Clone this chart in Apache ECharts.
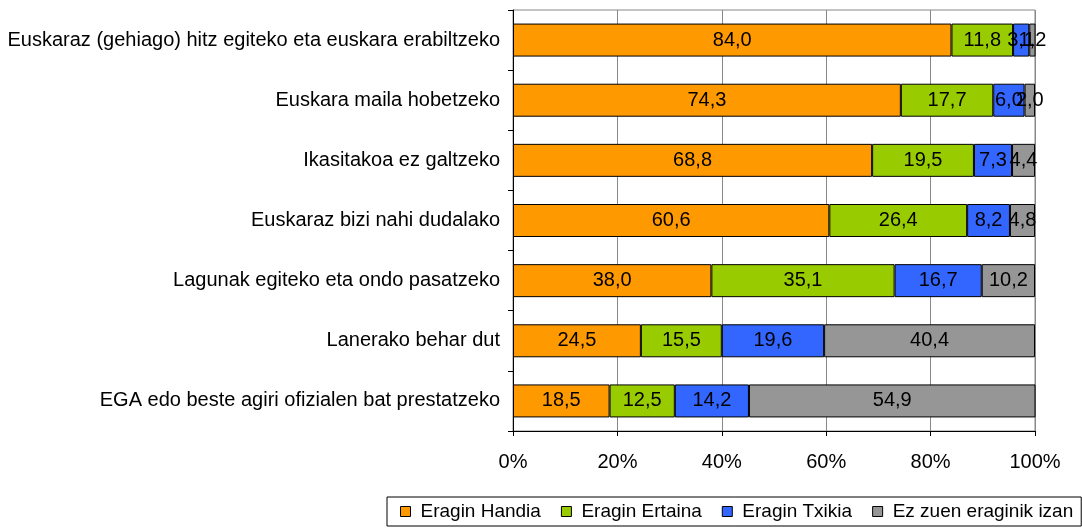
<!DOCTYPE html>
<html>
<head>
<meta charset="utf-8">
<script src="https://cdn.jsdelivr.net/npm/echarts@6/dist/echarts.min.js"></script>
<style>
  html, body { margin: 0; padding: 0; background: #fff; }
  #chart { width: 1082px; height: 530px; }
</style>
</head>
<body>
<div id="chart"></div>
<script>
var categories = [
  'Euskaraz (gehiago) hitz egiteko eta euskara erabiltzeko',
  'Euskara maila hobetzeko',
  'Ikasitakoa ez galtzeko',
  'Euskaraz bizi nahi dudalako',
  'Lagunak egiteko eta ondo pasatzeko',
  'Lanerako behar dut',
  'EGA edo beste agiri ofizialen bat prestatzeko'
];
var handia = [84.0, 74.3, 68.8, 60.6, 38.0, 24.5, 18.5];
var ertaina = [11.8, 17.7, 19.5, 26.4, 35.1, 15.5, 12.5];
var txikia = [3.1, 6.0, 7.3, 8.2, 16.7, 19.6, 14.2];
var ezIzan = [1.2, 2.0, 4.4, 4.8, 10.2, 40.4, 54.9];
var seriesNames = ['Eragin Handia', 'Eragin Ertaina', 'Eragin Txikia', 'Ez zuen eraginik izan'];
var colors = ['#FF9900', '#99CC00', '#3366FF', '#969696'];

var font = 'Liberation Sans, Arial, sans-serif';
var chart = echarts.init(document.getElementById('chart'));

function makeSeries(name, data) {
  return {
    name: name,
    type: 'bar',
    stack: 'total',
    barWidth: 33,
    data: data,
    itemStyle: { borderColor: '#000', borderWidth: 1 },
    label: {
      show: true,
      position: 'inside',
      color: '#000',
      fontFamily: font,
      fontSize: 20,
      formatter: function (p) { return p.value.toFixed(1).replace('.', ','); }
    }
  };
}

chart.setOption({
  animation: false,
  color: colors,
  grid: {
    left: 513, right: 47, top: 10, bottom: 99,
    show: true, borderColor: '#888', borderWidth: 1
  },
  legend: {
    data: seriesNames,
    left: 387,
    top: 497,
    width: 760,
    itemWidth: 10,
    itemHeight: 10,
    itemGap: 20,
    icon: 'rect',
    padding: [5, 8, 5, 13],
    borderColor: '#000',
    borderWidth: 1,
    itemStyle: { borderColor: '#000', borderWidth: 1 },
    textStyle: { fontFamily: font, fontSize: 19, color: '#000', padding: [0, 0, 0, 5] }
  },
  xAxis: {
    type: 'value',
    min: 0,
    max: 100,
    interval: 20,
    axisLine: { show: true, lineStyle: { color: '#000' } },
    axisTick: { show: true, length: 5, lineStyle: { color: '#000' } },
    splitLine: { show: true, lineStyle: { color: '#888', width: 1 } },
    axisLabel: {
      margin: 21,
      color: '#000',
      fontFamily: font,
      fontSize: 20,
      formatter: '{value}%'
    }
  },
  yAxis: {
    type: 'category',
    inverse: true,
    data: categories,
    axisLine: { show: true, lineStyle: { color: '#000' } },
    axisTick: { show: true, length: 5, lineStyle: { color: '#000' } },
    axisLabel: {
      margin: 13,
      color: '#000',
      fontFamily: font,
      fontSize: 20
    }
  },
  series: [
    makeSeries(seriesNames[0], handia),
    makeSeries(seriesNames[1], ertaina),
    makeSeries(seriesNames[2], txikia),
    makeSeries(seriesNames[3], ezIzan)
  ]
});
</script>
</body>
</html>
